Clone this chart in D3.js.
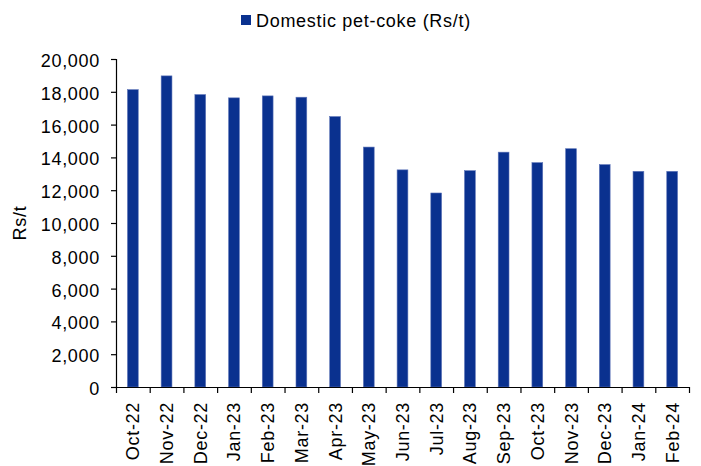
<!DOCTYPE html>
<html>
<head>
<meta charset="utf-8">
<script src="https://cdn.jsdelivr.net/npm/d3@7"></script>
<style>
  body { margin: 0; background: #fff; }
  svg { display: block; }
  text { font-family: "Liberation Sans", Arial, sans-serif; fill: #000; }
</style>
</head>
<body>
<svg id="chart" width="701" height="466"></svg>
<script>
const categories = ["Oct-22","Nov-22","Dec-22","Jan-23","Feb-23","Mar-23","Apr-23","May-23","Jun-23","Jul-23","Aug-23","Sep-23","Oct-23","Nov-23","Dec-23","Jan-24","Feb-24"];
const petCoke = [18130, 18970, 17830, 17630, 17750, 17670, 16490, 14630, 13240, 11830, 13190, 14320, 13680, 14530, 13560, 13150, 13150];
const yTicks = [0, 2000, 4000, 6000, 8000, 10000, 12000, 14000, 16000, 18000, 20000];
const seriesName = "Domestic pet-coke (Rs/t)";
const yTitle = "Rs/t";

const svg = d3.select("#chart");
const mLeft = 116, mRight = 689, mTop = 59, mBottom = 387;
const fs = 18, ls = 0.7;
const barColor = "#0A318F";

const x = d3.scaleBand().domain(categories).range([mLeft, mRight]).paddingInner(0.68).paddingOuter(0.34);
const y = d3.scaleLinear().domain([0, 20000]).range([mBottom, mTop]);
const step = x.step();

// bars
svg.append("g").selectAll("rect").data(petCoke).join("rect")
  .attr("x", (d, i) => x(categories[i]))
  .attr("width", x.bandwidth())
  .attr("y", d => y(d))
  .attr("height", d => y(0) - y(d))
  .attr("fill", barColor)
  .attr("stroke", "#5d74b8")
  .attr("stroke-width", 0.6);

// y axis
const yAxis = d3.axisLeft(y).tickValues(yTicks).tickSize(5).tickPadding(11)
  .tickFormat(d3.format(","));
const gy = svg.append("g").attr("transform", `translate(${mLeft},0)`).call(yAxis);
gy.select(".domain").attr("d", `M0.5,${mTop}V${mBottom}`).attr("stroke", "#000").attr("stroke-width", 1.2);
gy.selectAll(".tick line").attr("stroke", "#000").attr("stroke-width", 1.2);
gy.selectAll(".tick text")
  .style("font-family", '"Liberation Sans", Arial, sans-serif')
  .style("font-size", fs + "px").style("letter-spacing", ls + "px")
  .attr("dy", "0.42em").attr("fill", "#000");

// x axis
const gx = svg.append("g");
gx.append("line").attr("x1", mLeft).attr("x2", mRight + 1).attr("y1", mBottom + 0.5).attr("y2", mBottom + 0.5)
  .attr("stroke", "#000").attr("stroke-width", 1.2);
gx.selectAll("line.tk").data(d3.range(categories.length + 1)).join("line").attr("class", "tk")
  .attr("x1", i => mLeft + 0.5 + i * step).attr("x2", i => mLeft + 0.5 + i * step)
  .attr("y1", mBottom).attr("y2", mBottom + 6)
  .attr("stroke", "#000").attr("stroke-width", 1.2);
gx.selectAll("text").data(categories).join("text")
  .attr("transform", d => `translate(${x(d) + x.bandwidth() / 2},${mBottom + 15}) rotate(-90)`)
  .attr("text-anchor", "end").attr("dy", "0.36em")
  .style("font-size", fs + "px").style("letter-spacing", ls + "px")
  .text(d => d);

// y title
svg.append("text")
  .attr("transform", `translate(25.5,${(mTop + mBottom) / 2}) rotate(-90)`)
  .attr("text-anchor", "middle")
  .style("font-size", fs + "px").style("letter-spacing", ls + "px")
  .text(yTitle);

// legend
svg.append("rect").attr("x", 241).attr("y", 15).attr("width", 10).attr("height", 10).attr("fill", barColor);
svg.append("text").attr("x", 256).attr("y", 26.5)
  .style("font-size", fs + "px").style("letter-spacing", ls + "px")
  .text(seriesName);
</script>
</body>
</html>
